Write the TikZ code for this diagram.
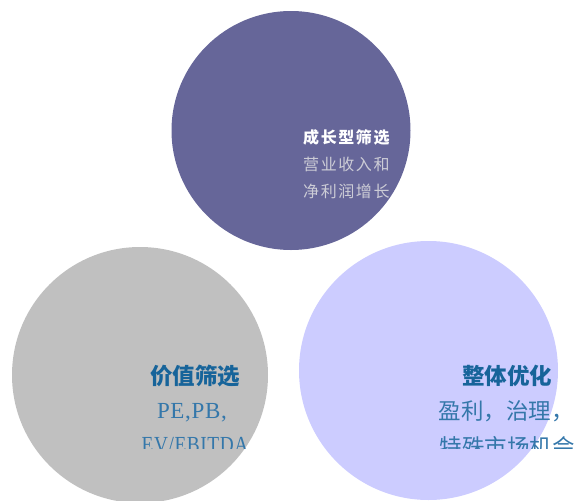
\documentclass[tikz,border=0pt]{standalone}
\usepackage{fontspec}
\newfontfamily\cjk{Noto Sans CJK SC}
\newfontfamily\cjkspaced[LetterSpace=10]{Noto Sans CJK SC}
\newfontfamily\latinserif[LetterSpace=3]{Liberation Serif}
\definecolor{topfill}{HTML}{666699}
\definecolor{leftfill}{HTML}{C0C0C0}
\definecolor{rightfill}{HTML}{CCCCFF}
\definecolor{toptext}{HTML}{CCCCD6}
\definecolor{titleblue}{HTML}{17649A}
\definecolor{bodyblue}{HTML}{3477AA}
\tikzset{
  toptitle/.style={anchor=base west, inner sep=0pt, text=white, font=\cjkspaced\bfseries\fontsize{16}{16}\selectfont},
  topbody/.style={anchor=base west, inner sep=0pt, text=toptext, font=\cjkspaced\fontsize{16}{16}\selectfont},
  lowtitle/.style={anchor=base, inner sep=0pt, text=titleblue, font=\cjk\bfseries\fontsize{22.5}{22.5}\selectfont},
  lowbody/.style={anchor=base, inner sep=0pt, text=bodyblue, font=\cjk\fontsize{22.5}{22.5}\selectfont},
  lowlatin/.style={anchor=base, inner sep=0pt, text=bodyblue, font=\latinserif\fontsize{23}{23}\selectfont},
}
\begin{document}
\begin{tikzpicture}[x=1pt,y=-1pt]
\useasboundingbox (0,0) rectangle (574,501);
\clip (0,0) rectangle (574,501);
% circles
\fill[topfill] (291,130.5) circle (119.5);
\fill[leftfill] (140,375) circle (128);
\fill[rightfill] (428.5,370.5) circle (129.5);
% top texts
\node[toptitle] (t1) at (303,143) {成长型筛选};
\node[topbody] (t2) at (303,170.5) {营业收入和};
\node[topbody] (t3) at (303,197.5) {净利润增长};
% lower texts (clipped)
\begin{scope}
\clip (0,0) rectangle (574,448);
\node[lowtitle] (l1) at (195,384.5) {价值筛选};
\node[lowlatin] (l2) at (192,418.5) {PE,PB,};
\node[lowlatin] (l3) at (195,452.5) {\scalebox{0.84}[1]{EV/EBITDA}};
\node[lowtitle] (r1) at (507,384.5) {整体优化};
\node[lowbody] (r2) at (506,419.5) {盈利，治理，};
\node[lowbody] (r3) at (507,455.5) {特殊市场机会};
\end{scope}
\end{tikzpicture}
\end{document}
